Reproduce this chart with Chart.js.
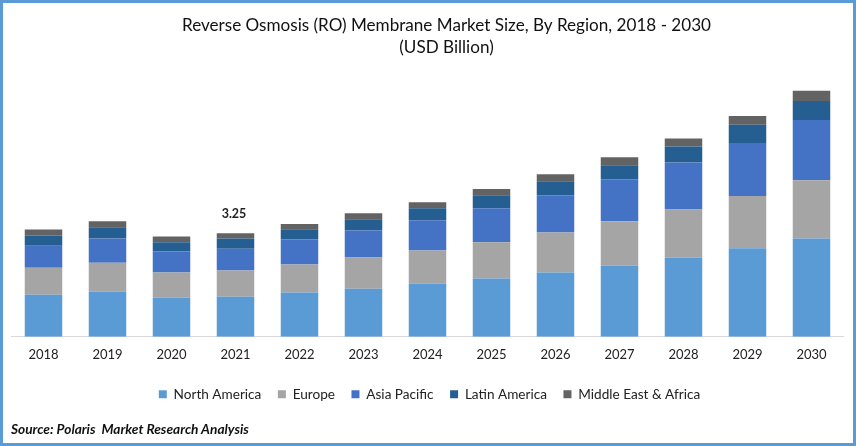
<!DOCTYPE html>
<html><head><meta charset="utf-8">
<script src="https://cdn.jsdelivr.net/npm/chart.js@4"></script>
<style>
html,body{margin:0;padding:0;background:#fff;width:856px;height:446px;overflow:hidden}
#wrap{position:relative;width:856px;height:446px}
#frame{position:absolute;left:0;top:0;width:850px;height:440px;border:3px solid #5B9BD5;pointer-events:none}
#src{position:absolute;left:11px;top:420px;font:italic bold 13.7px Lato,sans-serif;color:#111}
</style></head><body>
<div id="wrap"><canvas id="c" width="856" height="446"></canvas><div id="frame"></div><div id="src">Source: Polaris&nbsp; Market Research Analysis</div></div>
<script>
const categories=["2018","2019","2020","2021","2022","2023","2024","2025","2026","2027","2028","2029","2030"];
const northAmerica=[1.32,1.42,1.23,1.26,1.39,1.51,1.67,1.83,2.02,2.24,2.49,2.78,3.09];
const europe=[0.85,0.91,0.79,0.82,0.88,0.98,1.04,1.14,1.26,1.39,1.51,1.64,1.83];
const asiaPacific=[0.69,0.76,0.66,0.69,0.79,0.85,0.95,1.07,1.17,1.32,1.48,1.67,1.89];
const latinAmerica=[0.32,0.35,0.29,0.32,0.32,0.35,0.38,0.41,0.44,0.44,0.50,0.57,0.60];
const middleEastAfrica=[0.19,0.19,0.18,0.16,0.16,0.19,0.19,0.19,0.22,0.25,0.25,0.28,0.32];
const titleLines=["Reverse Osmosis (RO) Membrane Market Size, By Region, 2018 - 2030","(USD Billion)"];
const annotatedCategory="2021";
const annotatedText="3.25";
const mk=(label,data,color)=>({label,data,backgroundColor:color,borderWidth:0,stack:"s",barPercentage:1,categoryPercentage:0.586});
const labelPlugin={id:"totalLabel",
 afterLayout(ch){ if(ch.titleBlock){ch.titleBlock.left+=38;} if(ch.legend){ch.legend.left+=4;} },
 afterDatasetsDraw(ch){
  const i=categories.indexOf(annotatedCategory);
  const total=[northAmerica,europe,asiaPacific,latinAmerica,middleEastAfrica].reduce((s,a)=>s+a[i],0);
  const x=ch.scales.x.getPixelForValue(i), y=ch.scales.y.getPixelForValue(total);
  const c=ch.ctx;c.save();c.font="bold 12.5px Lato, sans-serif";c.fillStyle="#222";c.textAlign="center";c.textBaseline="alphabetic";
  c.fillText(annotatedText,x-1.5,y-15.5);c.restore();
}};
new Chart(document.getElementById("c"),{
  type:"bar",
  data:{labels:categories,datasets:[
    mk("North America",northAmerica,"#5B9BD5"),
    mk("Europe",europe,"#A5A5A5"),
    mk("Asia Pacific",asiaPacific,"#4472C4"),
    mk("Latin America",latinAmerica,"#255E91"),
    mk("Middle East & Africa",middleEastAfrica,"#636363")]},
  options:{responsive:false,animation:false,devicePixelRatio:1,
    layout:{padding:{left:11.5,right:12.5,top:8,bottom:35}},
    plugins:{
      title:{display:true,text:titleLines,color:"#111",font:{family:"Lato, sans-serif",size:17.1,weight:"normal",lineHeight:1.25},padding:{top:7,bottom:5}},
      legend:{position:"bottom",labels:{color:"#222",font:{family:"Lato, sans-serif",size:13.6},boxWidth:8,boxHeight:8,padding:16.5}},
      tooltip:{enabled:false}},
    scales:{
      x:{stacked:true,grid:{display:false,drawTicks:false},border:{color:"#D9D9D9",width:1},afterFit(s){s.height-=1.5;},ticks:{color:"#222",font:{family:"Lato, sans-serif",size:13},padding:10,maxRotation:0}},
      y:{stacked:true,display:false,min:0,max:8.61}
    }},
  plugins:[labelPlugin]
});
</script></body></html>
